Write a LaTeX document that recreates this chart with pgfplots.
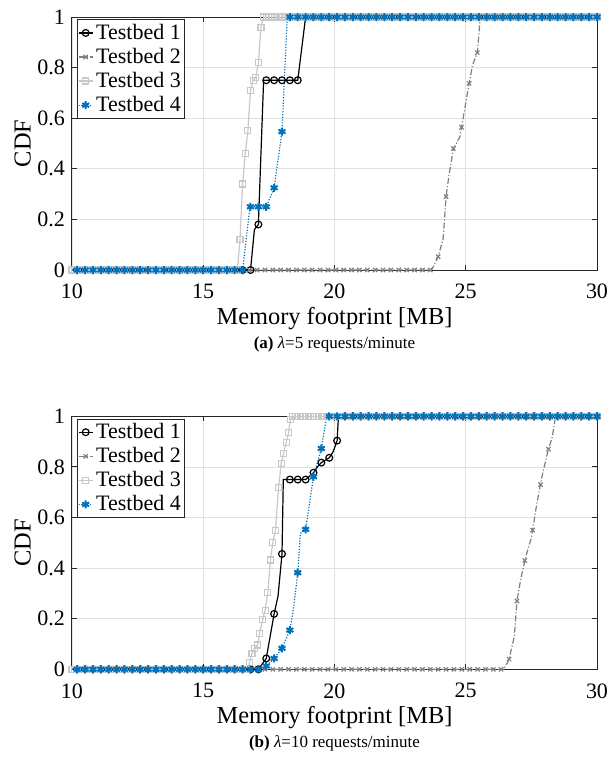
\documentclass[border=0pt]{standalone}
\usepackage{pgfplots}
\pgfplotsset{compat=1.18}
\usepackage{fontspec}
\setmainfont{Liberation Serif}
\definecolor{c2}{RGB}{128,128,128}
\definecolor{c3}{RGB}{200,200,200}
\definecolor{c4}{RGB}{0,114,189}
\definecolor{axc}{RGB}{38,38,38}
\definecolor{gridc}{RGB}{225,225,225}
\pgfplotsset{
 cdfaxis/.style={
  width=262.5pt, height=126.5pt, scale only axis,
  xmin=10,xmax=30,ymin=0,ymax=1,
  xtick={10,15,20,25,30}, ytick={0,0.2,0.4,0.6,0.8,1},
  grid=major, major grid style={gridc, line width=0.4pt},
  axis line style={axc, line width=0.5pt},
  tick style={axc, line width=0.5pt}, tick align=inside, major tick length=2.5pt,
  ticklabel style={font=\fontsize{11}{13}\selectfont, text=black},
  xticklabel style={yshift=-3.5pt},
  /pgf/number format/assume math mode=true,
  xlabel={Memory footprint [MB]}, ylabel={CDF},
  label style={font=\fontsize{12.2}{14}\selectfont},
  xlabel style={at={(rel axis cs:0.5,-0.19)}, anchor=center},
  ylabel style={at={(rel axis cs:-0.094,0.5)}, anchor=center},
  legend style={at={(rel axis cs:0,1)}, anchor=north west, xshift=2.3pt, yshift=-1.2pt,
    draw=axc, line width=0.5pt, inner sep=0.5pt, font=\fontsize{11}{12}\selectfont,
    nodes={inner sep=1.45pt}},
  legend cell align=left,
  legend image code/.code={\draw[mark repeat=2,mark phase=2] plot coordinates {(0pt,0pt)(3.5pt,0pt)(7pt,0pt)};},
 },
 t1/.style={black, solid, line width=0.6pt, mark=o, mark size=1.7pt, mark options={solid}},
 t2/.style={c2, line width=0.6pt, dash pattern=on 3pt off 1pt on 0.6pt off 1pt, mark=x, mark size=1.5pt, mark options={solid}},
 t3/.style={c3, solid, line width=0.6pt, mark=square, mark size=1.5pt, mark options={solid}},
 t4/.style={c4, line width=0.6pt, dash pattern=on 0.6pt off 0.8pt, mark=asterisk, mark size=2pt, mark options={solid, line width=1pt}},
 lineonly/.style={mark=none, forget plot},
 marksonly/.style={only marks, forget plot},
}
\begin{document}
\begin{tikzpicture}
\path[use as bounding box] (-36pt,135pt) rectangle (268pt,-246pt);
% ---------------- (a) ----------------
\begin{axis}[cdfaxis, name=top, at={(0pt,0pt)}, anchor=south west]
\addlegendimage{t1}\addlegendentry{Testbed 1}
\addlegendimage{t2}\addlegendentry{Testbed 2}
\addlegendimage{t3}\addlegendentry{Testbed 3}
\addlegendimage{t4}\addlegendentry{Testbed 4}
% Testbed 1
\addplot[t1, lineonly] coordinates {(10,0)(16.8,0)(16.95,0.16)(17.1,0.18)(17.3,0.75)(18.6,0.75)(18.9,1)(30,1)};
\addplot[t1, marksonly] coordinates {(10.2,0)(10.5,0)(10.8,0)(11.1,0)(11.4,0)(11.7,0)(12.0,0)(12.3,0)(12.6,0)(12.9,0)(13.2,0)(13.5,0)(13.8,0)(14.1,0)(14.4,0)(14.7,0)(15.0,0)(15.3,0)(15.6,0)(15.9,0)(16.2,0)(16.5,0)(16.8,0)
(17.1,0.18)(17.4,0.75)(17.7,0.75)(18.0,0.75)(18.3,0.75)(18.6,0.75)
(18.9,1)(19.2,1)(19.5,1)(19.8,1)(20.1,1)(20.4,1)(20.7,1)(21.0,1)(21.3,1)(21.6,1)(21.9,1)(22.2,1)(22.5,1)(22.8,1)(23.1,1)(23.4,1)(23.7,1)(24.0,1)(24.3,1)(24.6,1)(24.9,1)(25.2,1)(25.5,1)(25.8,1)(26.1,1)(26.4,1)(26.7,1)(27.0,1)(27.3,1)(27.6,1)(27.9,1)(28.2,1)(28.5,1)(28.8,1)(29.1,1)(29.4,1)(29.7,1)(30.0,1)};
% Testbed 2
\addplot[t2, lineonly] coordinates {(10,0)(23.70,0)(23.95,0.053)(24.14,0.125)(24.25,0.29)(24.37,0.38)(24.53,0.48)(24.78,0.527)(24.84,0.564)(25.13,0.738)(25.26,0.81)(25.44,0.859)(25.54,0.98)(25.56,1)(30,1)};
\addplot[t2, marksonly] coordinates {(10.15,0)(10.45,0)(10.75,0)(11.05,0)(11.35,0)(11.65,0)(11.95,0)(12.25,0)(12.55,0)(12.85,0)(13.15,0)(13.45,0)(13.75,0)(14.05,0)(14.35,0)(14.65,0)(14.95,0)(15.25,0)(15.55,0)(15.85,0)(16.15,0)(16.45,0)(16.75,0)(17.05,0)(17.35,0)(17.65,0)(17.95,0)(18.25,0)(18.55,0)(18.85,0)(19.15,0)(19.45,0)(19.75,0)(20.05,0)(20.35,0)(20.65,0)(20.95,0)(21.25,0)(21.55,0)(21.85,0)(22.15,0)(22.45,0)(22.75,0)(23.05,0)(23.35,0)(23.65,0)
(23.95,0.053)(24.25,0.29)(24.53,0.48)(24.84,0.564)(25.13,0.738)(25.44,0.859)
(25.75,1)(26.05,1)(26.35,1)(26.65,1)(26.95,1)(27.25,1)(27.55,1)(27.85,1)(28.15,1)(28.45,1)(28.75,1)(29.05,1)(29.35,1)(29.65,1)(29.95,1)};
% Testbed 3
\addplot[t3, forget plot] coordinates {(10.0,0)(10.1,0)(10.2,0)(10.3,0)(10.4,0)(10.5,0)(10.6,0)(10.7,0)(10.8,0)(10.9,0)(11.0,0)(11.1,0)(11.2,0)(11.3,0)(11.4,0)(11.5,0)(11.6,0)(11.7,0)(11.8,0)(11.9,0)(12.0,0)(12.1,0)(12.2,0)(12.3,0)(12.4,0)(12.5,0)(12.6,0)(12.7,0)(12.8,0)(12.9,0)(13.0,0)(13.1,0)(13.2,0)(13.3,0)(13.4,0)(13.5,0)(13.6,0)(13.7,0)(13.8,0)(13.9,0)(14.0,0)(14.1,0)(14.2,0)(14.3,0)(14.4,0)(14.5,0)(14.6,0)(14.7,0)(14.8,0)(14.9,0)(15.0,0)(15.1,0)(15.2,0)(15.3,0)(15.4,0)(15.5,0)(15.6,0)(15.7,0)(15.8,0)(15.9,0)(16.0,0)(16.1,0)(16.2,0)(16.3,0)
(16.4,0.12)(16.5,0.34)(16.6,0.46)(16.7,0.55)(16.8,0.71)(16.9,0.75)(17.0,0.76)(17.1,0.82)(17.2,0.96)
(17.3,1)(17.4,1)(17.5,1)(17.6,1)(17.7,1)(17.8,1)(17.9,1)(18.0,1)(18.1,1)(18.2,1)(18.3,1)(18.4,1)(18.5,1)(18.6,1)(18.7,1)(18.8,1)(18.9,1)(19.0,1)(19.1,1)(19.2,1)(19.3,1)(19.4,1)(19.5,1)(19.6,1)(19.7,1)(19.8,1)(19.9,1)(20.0,1)(20.1,1)(20.2,1)(20.3,1)(20.4,1)(20.5,1)(20.6,1)(20.7,1)(20.8,1)(20.9,1)(21.0,1)(21.1,1)(21.2,1)(21.3,1)(21.4,1)(21.5,1)(21.6,1)(21.7,1)(21.8,1)(21.9,1)(22.0,1)(22.1,1)(22.2,1)(22.3,1)(22.4,1)(22.5,1)(22.6,1)(22.7,1)(22.8,1)(22.9,1)(23.0,1)(23.1,1)(23.2,1)(23.3,1)(23.4,1)(23.5,1)(23.6,1)(23.7,1)(23.8,1)(23.9,1)(24.0,1)(24.1,1)(24.2,1)(24.3,1)(24.4,1)(24.5,1)(24.6,1)(24.7,1)(24.8,1)(24.9,1)(25.0,1)(25.1,1)(25.2,1)(25.3,1)(25.4,1)(25.5,1)(25.6,1)(25.7,1)(25.8,1)(25.9,1)(26.0,1)(26.1,1)(26.2,1)(26.3,1)(26.4,1)(26.5,1)(26.6,1)(26.7,1)(26.8,1)(26.9,1)(27.0,1)(27.1,1)(27.2,1)(27.3,1)(27.4,1)(27.5,1)(27.6,1)(27.7,1)(27.8,1)(27.9,1)(28.0,1)(28.1,1)(28.2,1)(28.3,1)(28.4,1)(28.5,1)(28.6,1)(28.7,1)(28.8,1)(28.9,1)(29.0,1)(29.1,1)(29.2,1)(29.3,1)(29.4,1)(29.5,1)(29.6,1)(29.7,1)(29.8,1)(29.9,1)(30.0,1)};
% Testbed 4
\addplot[t4, lineonly] coordinates {(10,0)(16.5,0)(16.78,0.25)(17.4,0.25)(17.7,0.325)(18.0,0.547)(18.2,1)(30,1)};
\addplot[t4, marksonly] coordinates {(10.2,0)(10.5,0)(10.8,0)(11.1,0)(11.4,0)(11.7,0)(12.0,0)(12.3,0)(12.6,0)(12.9,0)(13.2,0)(13.5,0)(13.8,0)(14.1,0)(14.4,0)(14.7,0)(15.0,0)(15.3,0)(15.6,0)(15.9,0)(16.2,0)(16.5,0)
(16.8,0.25)(17.1,0.25)(17.4,0.25)(17.7,0.325)(18.0,0.547)
(18.3,1)(18.6,1)(18.9,1)(19.2,1)(19.5,1)(19.8,1)(20.1,1)(20.4,1)(20.7,1)(21.0,1)(21.3,1)(21.6,1)(21.9,1)(22.2,1)(22.5,1)(22.8,1)(23.1,1)(23.4,1)(23.7,1)(24.0,1)(24.3,1)(24.6,1)(24.9,1)(25.2,1)(25.5,1)(25.8,1)(26.1,1)(26.4,1)(26.7,1)(27.0,1)(27.3,1)(27.6,1)(27.9,1)(28.2,1)(28.5,1)(28.8,1)(29.1,1)(29.4,1)(29.7,1)(30.0,1)};
\end{axis}
% ---------------- (b) ----------------
\begin{axis}[cdfaxis, name=bot, at={(0pt,-199.65pt)}, anchor=south west]
\addlegendimage{t1}\addlegendentry{Testbed 1}
\addlegendimage{t2}\addlegendentry{Testbed 2}
\addlegendimage{t3}\addlegendentry{Testbed 3}
\addlegendimage{t4}\addlegendentry{Testbed 4}
% Testbed 1
\addplot[t1, lineonly] coordinates {(10,0)(17.1,0)(17.4,0.043)(17.7,0.219)(17.85,0.29)(18.0,0.456)(18.05,0.75)(18.9,0.75)(19.2,0.777)(19.35,0.80)(19.5,0.817)(19.8,0.836)(19.95,0.86)(20.1,0.904)(20.15,1)(30,1)};
\addplot[t1, marksonly] coordinates {(10.2,0)(10.5,0)(10.8,0)(11.1,0)(11.4,0)(11.7,0)(12.0,0)(12.3,0)(12.6,0)(12.9,0)(13.2,0)(13.5,0)(13.8,0)(14.1,0)(14.4,0)(14.7,0)(15.0,0)(15.3,0)(15.6,0)(15.9,0)(16.2,0)(16.5,0)(16.8,0)(17.1,0)
(17.4,0.043)(17.7,0.219)(18.0,0.456)(18.3,0.75)(18.6,0.75)(18.9,0.75)(19.2,0.777)(19.5,0.817)(19.8,0.836)(20.1,0.904)
(20.4,1)(20.7,1)(21.0,1)(21.3,1)(21.6,1)(21.9,1)(22.2,1)(22.5,1)(22.8,1)(23.1,1)(23.4,1)(23.7,1)(24.0,1)(24.3,1)(24.6,1)(24.9,1)(25.2,1)(25.5,1)(25.8,1)(26.1,1)(26.4,1)(26.7,1)(27.0,1)(27.3,1)(27.6,1)(27.9,1)(28.2,1)(28.5,1)(28.8,1)(29.1,1)(29.4,1)(29.7,1)(30.0,1)};
% Testbed 2
\addplot[t2, lineonly] coordinates {(10,0)(26.45,0)(26.65,0.04)(26.85,0.13)(26.95,0.27)(27.1,0.36)(27.3,0.45)(27.5,0.52)(27.7,0.65)(27.9,0.76)(28.1,0.85)(28.3,0.92)(28.42,1)(30,1)};
\addplot[t2, marksonly] coordinates {(10.15,0)(10.45,0)(10.75,0)(11.05,0)(11.35,0)(11.65,0)(11.95,0)(12.25,0)(12.55,0)(12.85,0)(13.15,0)(13.45,0)(13.75,0)(14.05,0)(14.35,0)(14.65,0)(14.95,0)(15.25,0)(15.55,0)(15.85,0)(16.15,0)(16.45,0)(16.75,0)(17.05,0)(17.35,0)(17.65,0)(17.95,0)(18.25,0)(18.55,0)(18.85,0)(19.15,0)(19.45,0)(19.75,0)(20.05,0)(20.35,0)(20.65,0)(20.95,0)(21.25,0)(21.55,0)(21.85,0)(22.15,0)(22.45,0)(22.75,0)(23.05,0)(23.35,0)(23.65,0)(23.95,0)(24.25,0)(24.55,0)(24.85,0)(25.15,0)(25.45,0)(25.75,0)(26.05,0)(26.35,0)
(26.65,0.04)(26.95,0.27)(27.25,0.43)(27.55,0.55)(27.85,0.73)(28.15,0.87)
(28.45,1)(28.75,1)(29.05,1)(29.35,1)(29.65,1)(29.95,1)};
% Testbed 3
\addplot[t3, forget plot] coordinates {(10.0,0)(10.1,0)(10.2,0)(10.3,0)(10.4,0)(10.5,0)(10.6,0)(10.7,0)(10.8,0)(10.9,0)(11.0,0)(11.1,0)(11.2,0)(11.3,0)(11.4,0)(11.5,0)(11.6,0)(11.7,0)(11.8,0)(11.9,0)(12.0,0)(12.1,0)(12.2,0)(12.3,0)(12.4,0)(12.5,0)(12.6,0)(12.7,0)(12.8,0)(12.9,0)(13.0,0)(13.1,0)(13.2,0)(13.3,0)(13.4,0)(13.5,0)(13.6,0)(13.7,0)(13.8,0)(13.9,0)(14.0,0)(14.1,0)(14.2,0)(14.3,0)(14.4,0)(14.5,0)(14.6,0)(14.7,0)(14.8,0)(14.9,0)(15.0,0)(15.1,0)(15.2,0)(15.3,0)(15.4,0)(15.5,0)(15.6,0)(15.7,0)(15.8,0)(15.9,0)(16.0,0)(16.1,0)(16.2,0)(16.3,0)(16.4,0)(16.5,0)(16.6,0)(16.7,0)
(16.76,0.026)(16.86,0.063)(16.95,0.083)(17.08,0.096)(17.14,0.142)(17.27,0.198)(17.36,0.234)(17.46,0.303)(17.56,0.432)(17.65,0.5)(17.75,0.55)(17.87,0.72)(17.97,0.814)(18.06,0.854)(18.16,0.896)(18.25,0.935)(18.32,0.988)
(18.4,1)(18.5,1)(18.6,1)(18.7,1)(18.8,1)(18.9,1)(19.0,1)(19.1,1)(19.2,1)(19.3,1)(19.4,1)(19.5,1)(19.6,1)(19.7,1)(19.8,1)(19.9,1)(20.0,1)(20.1,1)(20.2,1)(20.3,1)(20.4,1)(20.5,1)(20.6,1)(20.7,1)(20.8,1)(20.9,1)(21.0,1)(21.1,1)(21.2,1)(21.3,1)(21.4,1)(21.5,1)(21.6,1)(21.7,1)(21.8,1)(21.9,1)(22.0,1)(22.1,1)(22.2,1)(22.3,1)(22.4,1)(22.5,1)(22.6,1)(22.7,1)(22.8,1)(22.9,1)(23.0,1)(23.1,1)(23.2,1)(23.3,1)(23.4,1)(23.5,1)(23.6,1)(23.7,1)(23.8,1)(23.9,1)(24.0,1)(24.1,1)(24.2,1)(24.3,1)(24.4,1)(24.5,1)(24.6,1)(24.7,1)(24.8,1)(24.9,1)(25.0,1)(25.1,1)(25.2,1)(25.3,1)(25.4,1)(25.5,1)(25.6,1)(25.7,1)(25.8,1)(25.9,1)(26.0,1)(26.1,1)(26.2,1)(26.3,1)(26.4,1)(26.5,1)(26.6,1)(26.7,1)(26.8,1)(26.9,1)(27.0,1)(27.1,1)(27.2,1)(27.3,1)(27.4,1)(27.5,1)(27.6,1)(27.7,1)(27.8,1)(27.9,1)(28.0,1)(28.1,1)(28.2,1)(28.3,1)(28.4,1)(28.5,1)(28.6,1)(28.7,1)(28.8,1)(28.9,1)(29.0,1)(29.1,1)(29.2,1)(29.3,1)(29.4,1)(29.5,1)(29.6,1)(29.7,1)(29.8,1)(29.9,1)(30.0,1)};
% Testbed 4
\addplot[t4, lineonly] coordinates {(10,0)(17.1,0)(17.4,0.013)(17.7,0.043)(18.0,0.083)(18.3,0.155)(18.45,0.25)(18.6,0.382)(18.7,0.537)(18.9,0.553)(19.2,0.761)(19.5,0.873)(19.7,1)(30,1)};
\addplot[t4, marksonly] coordinates {(10.2,0)(10.5,0)(10.8,0)(11.1,0)(11.4,0)(11.7,0)(12.0,0)(12.3,0)(12.6,0)(12.9,0)(13.2,0)(13.5,0)(13.8,0)(14.1,0)(14.4,0)(14.7,0)(15.0,0)(15.3,0)(15.6,0)(15.9,0)(16.2,0)(16.5,0)(16.8,0)(17.1,0)
(17.4,0.013)(17.7,0.043)(18.0,0.083)(18.3,0.155)(18.6,0.382)(18.9,0.553)(19.2,0.761)(19.5,0.873)
(19.8,1)(20.1,1)(20.4,1)(20.7,1)(21.0,1)(21.3,1)(21.6,1)(21.9,1)(22.2,1)(22.5,1)(22.8,1)(23.1,1)(23.4,1)(23.7,1)(24.0,1)(24.3,1)(24.6,1)(24.9,1)(25.2,1)(25.5,1)(25.8,1)(26.1,1)(26.4,1)(26.7,1)(27.0,1)(27.3,1)(27.6,1)(27.9,1)(28.2,1)(28.5,1)(28.8,1)(29.1,1)(29.4,1)(29.7,1)(30.0,1)};
\end{axis}
\node[font=\fontsize{8.5}{10}\selectfont] at ([yshift=-37pt]top.south) {\textbf{(a)} \textit{λ}=5 requests/minute};
\node[font=\fontsize{8.5}{10}\selectfont] at ([yshift=-37pt]bot.south) {\textbf{(b)} \textit{λ}=10 requests/minute};
\end{tikzpicture}
\end{document}
